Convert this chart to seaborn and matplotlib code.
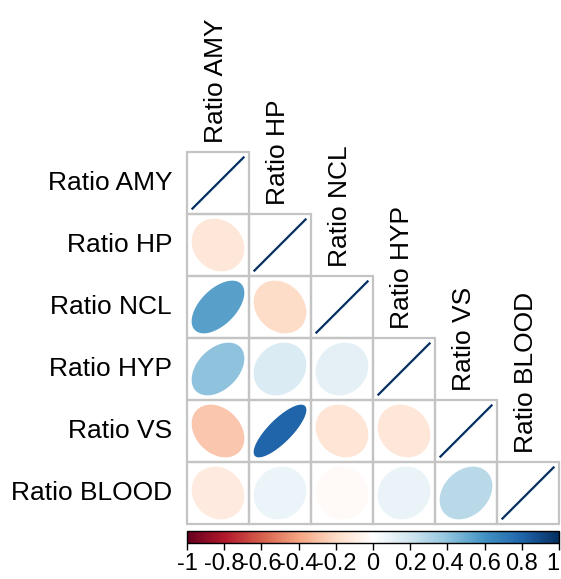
import numpy as np
import pandas as pd
import matplotlib
matplotlib.use("Agg")
import matplotlib.pyplot as plt
import seaborn as sns
from matplotlib.colors import LinearSegmentedColormap, ListedColormap
from matplotlib.patches import Polygon, Rectangle
import matplotlib.cm as cm
import matplotlib.colors as mcolors

labels = ["Ratio AMY", "Ratio HP", "Ratio NCL", "Ratio HYP", "Ratio VS", "Ratio BLOOD"]
# lower triangle correlations, row by row
row_hp = [-0.14]
row_ncl = [0.54, -0.20]
row_hyp = [0.40, 0.16, 0.11]
row_vs = [-0.28, 0.80, -0.15, -0.14]
row_blood = [-0.12, 0.08, -0.03, 0.09, 0.27]
tick_vals = [-1, -0.8, -0.6, -0.4, -0.2, 0, 0.2, 0.4, 0.6, 0.8, 1]
tick_labels = ["-1", "-0.8", "-0.6", "-0.4", "-0.2", "0", "0.2", "0.4", "0.6", "0.8", "1"]

rows = [[], row_hp, row_ncl, row_hyp, row_vs, row_blood]
n = len(labels)
corr = np.eye(n)
for i, r in enumerate(rows):
    for j, v in enumerate(r):
        corr[i, j] = v
        corr[j, i] = v
df = pd.DataFrame(corr, index=labels, columns=labels)

cmap = LinearSegmentedColormap.from_list(
    "corrRdBu",
    ["#67001F", "#B2182B", "#D6604D", "#F4A582", "#FDDBC7", "#FFFFFF",
     "#D1E5F0", "#92C5DE", "#4393C3", "#2166AC", "#053061"], N=200)
norm = mcolors.Normalize(vmin=-1, vmax=1)

sns.set_theme(style="white")
plt.rcParams['font.family'] = ['Liberation Sans', 'DejaVu Sans']
plt.rcParams['text.color'] = 'black'
plt.rcParams['xtick.color'] = 'black'
plt.rcParams['xtick.labelcolor'] = 'black'

W, H = 561, 579
fig = plt.figure(figsize=(W / 100, H / 100), dpi=100)
x0, x1 = 187, 559
y0, y1 = 152, 524
ax = fig.add_axes([x0 / W, 1 - y1 / H, (x1 - x0) / W, (y1 - y0) / H])

mask = np.triu(np.ones_like(corr, dtype=bool), k=1)
sns.heatmap(df, mask=mask, cmap=ListedColormap(["white"]), cbar=False,
            linewidths=0, square=False, ax=ax,
            xticklabels=False, yticklabels=False)
for sp in ax.spines.values():
    sp.set_visible(False)

t = np.linspace(0, 2 * np.pi, 120)
for i in range(n):
    for j in range(i + 1):
        ax.add_patch(Rectangle((j, i), 1, 1, facecolor="none",
                               edgecolor="#C4C4C4", lw=1.6, clip_on=False,
                               zorder=3))
        r = corr[i, j]
        cx, cy = j + 0.5, i + 0.5
        if i == j:
            ax.plot([cx - 0.425, cx + 0.425], [cy + 0.425, cy - 0.425],
                    color="#053061", lw=1.6, solid_capstyle="butt")
            continue
        d = np.arccos(r)
        ex = 0.85 * np.cos(t + d / 2) / 2
        ey = 0.85 * np.cos(t - d / 2) / 2
        poly = Polygon(np.column_stack([cx + ex, cy - ey]), closed=True,
                       facecolor=cmap(norm(r)), edgecolor="none")
        ax.add_patch(poly)

ax.set_xlim(0, n)
ax.set_ylim(n, 0)

fs = 19
for i, lab in enumerate(labels):
    ax.text(-0.24, i + 0.5, lab, ha="right", va="center", fontsize=fs,
            color="black")
    ax.text(i + 0.46, i - 0.15, lab, ha="center", va="bottom",
            rotation=90, fontsize=fs, color="black")

cax = fig.add_axes([x0 / W, 1 - 543 / H, (x1 - x0) / W, 12 / H])
cb = fig.colorbar(cm.ScalarMappable(norm=norm, cmap=cmap), cax=cax,
                  orientation="horizontal")
cb.set_ticks(tick_vals)
cb.set_ticklabels(tick_labels)
cb.outline.set_edgecolor("black")
cb.outline.set_linewidth(1.0)
cax.tick_params(axis="x", length=5, width=1, color="black", labelsize=17,
                labelcolor="black", pad=2, bottom=True)
cax.get_xticklabels()[-1].set_horizontalalignment("right")

fig.savefig("out.png", dpi=100)
